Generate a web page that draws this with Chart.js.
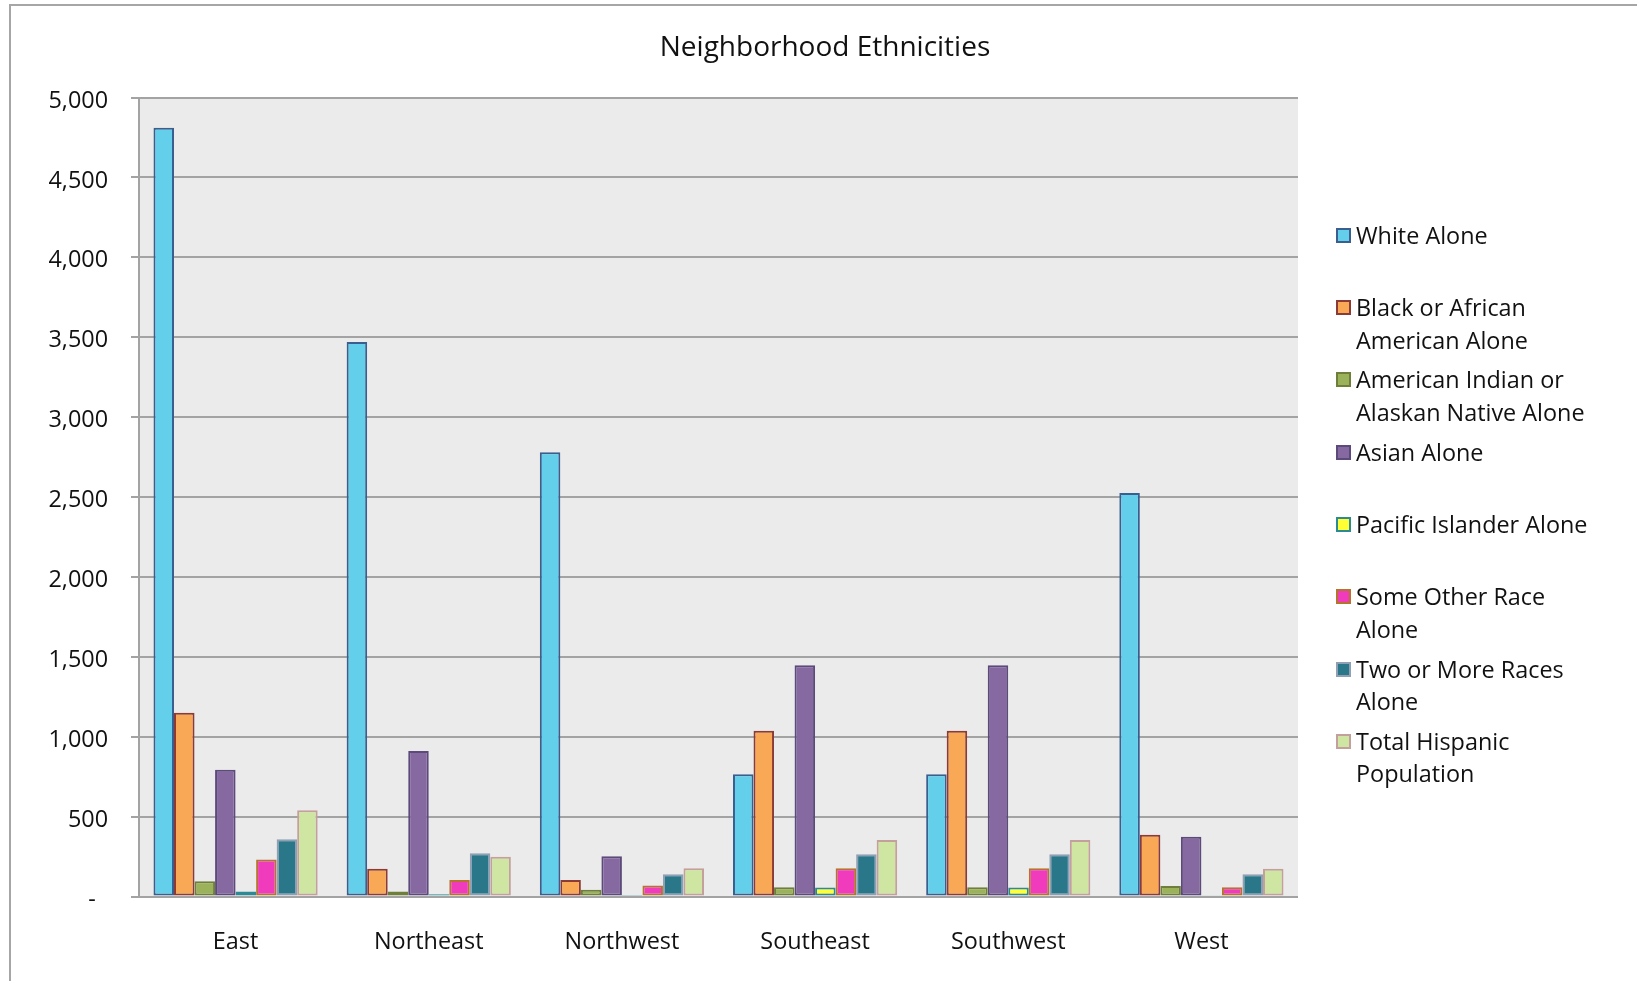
<!DOCTYPE html>
<html>
<head>
<meta charset="utf-8">
<script src="https://cdn.jsdelivr.net/npm/chart.js@4"></script>
<style>
  html, body { margin: 0; padding: 0; background: #fff; overflow: hidden; }
  #wrap { position: relative; width: 1637px; height: 981px; }
  #frame { position: absolute; left: 9px; top: 4px; width: 1700px; height: 1100px; border: 2px solid #a6a6a6; }
  #chart { position: absolute; left: 0; top: 0; }
  #legend { position: absolute; left: 0; top: 0; font-family: "Open Sans", sans-serif; font-size: 23.4px; color: #111; }
  .item { position: absolute; left: 1336px; line-height: 32.4px; }
  .box { position: absolute; left: 0; top: 9px; width: 11px; height: 11px; border: 2px solid; }
  .txt { position: absolute; left: 20px; top: 0; white-space: pre; }
</style>
</head>
<body>
<div id="wrap">
  <div id="frame"></div>
  <canvas id="chart" width="1637" height="981"></canvas>
  <div id="legend"></div>
</div>
<script>
// Neighborhood ethnicity counts by city area
const areas = ['East', 'Northeast', 'Northwest', 'Southeast', 'Southwest', 'West'];

const seriesNames = [
  'White Alone',
  'Black or African\nAmerican Alone',
  'American Indian or\nAlaskan Native Alone',
  'Asian Alone',
  'Pacific Islander Alone',
  'Some Other Race\nAlone',
  'Two or More Races\nAlone',
  'Total Hispanic\nPopulation',
];

const whiteAlone    = [4810, 3470, 2780, 765, 765, 2525];
const blackAlone    = [1150, 173, 104, 1037, 1037, 386];
const amIndianAlone = [95, 31, 42, 58, 58, 65];
const asianAlone    = [793, 910, 252, 1447, 1447, 374];
const pacificAlone  = [31, 14, 10, 56, 56, 5];
const otherRace     = [232, 104, 69, 177, 177, 58];
const twoOrMore     = [359, 271, 140, 265, 265, 140];
const hispanicTotal = [540, 248, 177, 353, 353, 173];

const yTicks = [0, 500, 1000, 1500, 2000, 2500, 3000, 3500, 4000, 4500, 5000];

const fills   = ['#63cfea', '#f9a856', '#9bb25a', '#8669a0', '#ffff33', '#f03bbc', '#2a7789', '#cee6a2'];
const borders = ['#3a5f8f', '#8b3a35', '#6e7e3b', '#5c4a7b', '#2c8a95', '#b5742e', '#8fa0b5', '#c4a09c'];

const seriesData = [whiteAlone, blackAlone, amIndianAlone, asianAlone, pacificAlone, otherRace, twoOrMore, hispanicTotal];

const FONT = '"Open Sans", sans-serif';
const TITLE = 'Neighborhood Ethnicities';

// grey plot background + title centred on the whole figure
const plotBg = {
  id: 'plotBg',
  beforeDraw(chart) {
    const { ctx, chartArea: a } = chart;
    ctx.save();
    ctx.fillStyle = '#ebebeb';
    ctx.fillRect(a.left, a.top, a.right - a.left, a.bottom - a.top);
    ctx.restore();
  },
  afterDraw(chart) {
    const ctx = chart.ctx;
    ctx.save();
    ctx.fillStyle = '#111';
    ctx.font = `28px ${FONT}`;
    ctx.textAlign = 'center';
    ctx.textBaseline = 'middle';
    ctx.fillText(TITLE, 825, 48);
    ctx.restore();
  },
};

new Chart(document.getElementById('chart'), {
  type: 'bar',
  data: {
    labels: areas,
    datasets: seriesData.map((d, i) => ({
      label: seriesNames[i].replace('\n', ' '),
      data: d,
      backgroundColor: fills[i],
      borderColor: borders[i],
      borderWidth: 2,
      borderSkipped: false,
      barPercentage: 1,
      categoryPercentage: 0.85,
    })),
  },
  options: {
    responsive: false,
    animation: false,
    layout: { padding: { left: 0, right: 339, top: 97.5, bottom: 0 } },
    plugins: {
      legend: { display: false },
      tooltip: { enabled: false },
      title: { display: false },
    },
    scales: {
      x: {
        grid: { display: false, drawTicks: false },
        border: { display: false },
        ticks: { color: '#111', font: { family: FONT, size: 23.4 }, padding: 32 },
        afterFit(scale) { scale.height = 84.5; },
      },
      y: {
        min: 0,
        max: 5000,
        afterBuildTicks(scale) { scale.ticks = yTicks.map(v => ({ value: v })); },
        grid: { color: '#a3a3a3', lineWidth: 2, tickLength: 8 },
        border: { color: '#a3a3a3', width: 2 },
        ticks: {
          color: '#111',
          font: { family: FONT, size: 23.4 },
          padding: 23,
          labelOffset: 3.5,
          // accounting style: zero shows as a dash set in from the right
          callback: v => (v === 0 ? '-  ' : v.toLocaleString('en-US')),
        },
        afterFit(scale) { scale.width = 139; },
      },
    },
  },
  plugins: [plotBg],
});

// legend on the right, built from the same names and colours
const legend = document.getElementById('legend');
seriesNames.forEach((name, i) => {
  const item = document.createElement('div');
  item.className = 'item';
  item.style.top = (235 - 16.2 + i * 72.3) + 'px';
  item.innerHTML = `<div class="box" style="background:${fills[i]};border-color:${borders[i]}"></div><div class="txt"></div>`;
  item.querySelector('.txt').textContent = name;
  legend.appendChild(item);
});
</script>
</body>
</html>
